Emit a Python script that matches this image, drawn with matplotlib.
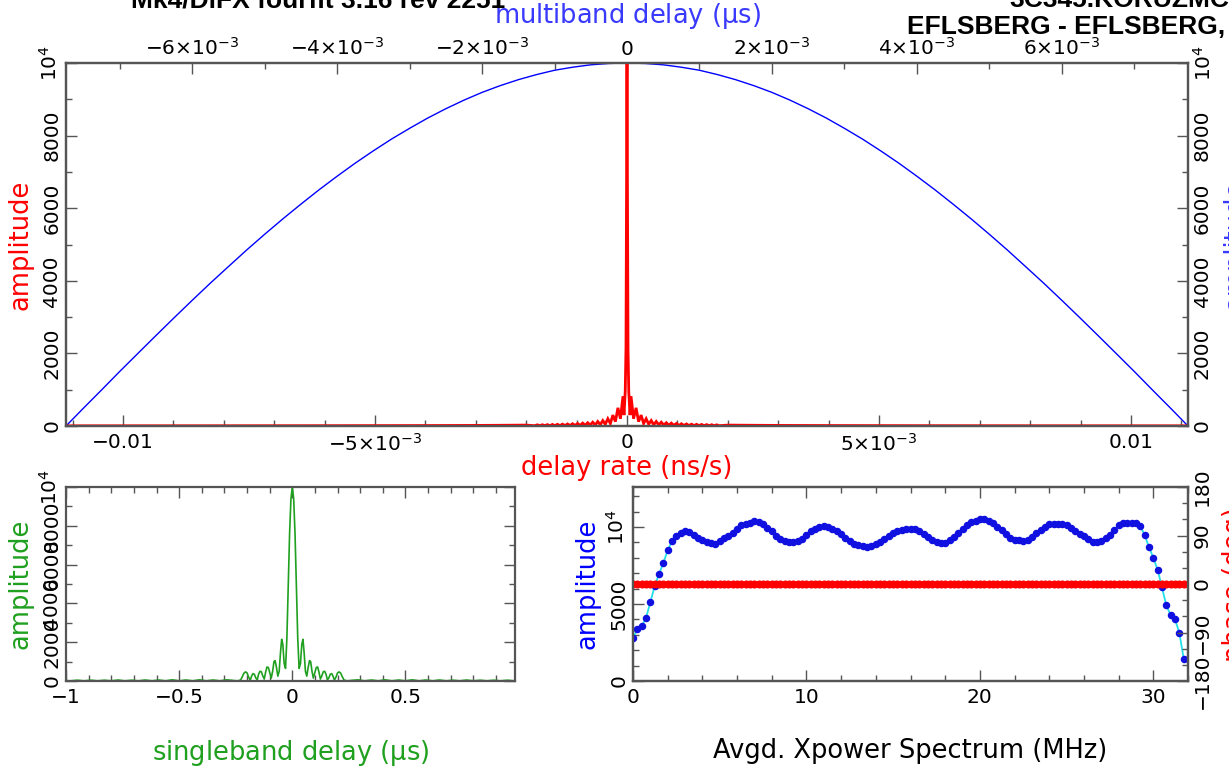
import numpy as np
import matplotlib
matplotlib.use("Agg")
import matplotlib.pyplot as plt
from matplotlib.ticker import MultipleLocator, FixedLocator, FixedFormatter

plt.rcParams['font.family'] = ['DejaVu Sans']
plt.rcParams['mathtext.default'] = 'regular'

# ---------------- data ----------------
# multiband delay function (one side, mirrored), x in microseconds
mbd_offsets = [0.0, 0.00025, 0.0005, 0.00075, 0.001, 0.00125, 0.0015, 0.00175,
               0.002, 0.00225, 0.0025, 0.00275, 0.003, 0.00325, 0.0035, 0.00375,
               0.004, 0.00425, 0.0045, 0.00475, 0.005, 0.00525, 0.0055, 0.00575,
               0.006, 0.00625, 0.0065, 0.00675, 0.007, 0.00725, 0.0075, 0.00774]
mbd_amp = [10000, 9987, 9950, 9884, 9800, 9680, 9540, 9376,
           9190, 8976, 8740, 8483, 8200, 7903, 7580, 7241,
           6880, 6505, 6110, 5703, 5280, 4844, 4390, 3933,
           3460, 2979, 2490, 1996, 1500, 992, 490, 0]

# delay-rate function (one side, mirrored), x in ns/s
rate_offsets = [0.0, 2.0e-5, 3.5e-5, 6.0e-5, 8.0e-5, 1.3e-4, 1.8e-4, 2.3e-4, 2.8e-4,
                3.3e-4, 3.8e-4, 4.3e-4, 4.8e-4, 5.3e-4, 5.8e-4, 6.3e-4, 6.8e-4,
                7.3e-4, 7.8e-4, 8.3e-4, 8.8e-4, 9.3e-4, 9.8e-4, 1.03e-3, 1.08e-3,
                1.13e-3, 1.18e-3, 1.23e-3, 1.28e-3, 1.33e-3, 1.38e-3, 1.43e-3,
                1.48e-3, 1.53e-3, 1.58e-3, 1.63e-3, 1.68e-3, 1.73e-3, 1.78e-3,
                1.83e-3, 2.0e-3, 2.5e-3, 3.0e-3, 4.0e-3, 5.0e-3, 6.0e-3, 8.0e-3,
                1.0e-2, 1.12e-2]
rate_amp = [10000, 2150, 950, 300, 820, 200, 500, 120, 300,
            70, 200, 50, 150, 35, 125, 30, 105,
            25, 90, 20, 80, 18, 70, 15, 62,
            14, 56, 12, 50, 11, 46, 10,
            42, 10, 38, 9, 35, 9, 32,
            8, 25, 20, 16, 12, 10, 8, 6,
            5, 4]

# singleband delay function (one side, mirrored), x in microseconds
sbd_offsets = [0.000, 0.006, 0.012, 0.018, 0.024, 0.030, 0.036, 0.042, 0.047, 0.052,
               0.058, 0.064, 0.070, 0.076, 0.081, 0.087, 0.093, 0.099, 0.106, 0.112,
               0.118, 0.124, 0.130, 0.137, 0.143, 0.149, 0.155, 0.161, 0.168, 0.174,
               0.180, 0.186, 0.193, 0.200, 0.207, 0.214, 0.221, 0.228, 0.236, 0.245,
               0.26, 0.29, 0.32, 0.35, 0.38, 0.41, 0.44, 0.47, 0.50, 0.53, 0.56,
               0.59, 0.62, 0.65, 0.68, 0.71, 0.74, 0.77, 0.80, 0.83, 0.86, 0.89,
               0.92, 0.95, 0.98, 1.0]
sbd_amp = [10000, 9400, 7600, 4800, 2200, 650, 900, 1900, 2150, 1500,
           500, 250, 700, 1050, 1000, 500, 150, 400, 700, 720,
           450, 100, 250, 480, 500, 350, 60, 150, 350, 380,
           250, 40, 200, 420, 470, 400, 220, 60, 20, 10,
           30, 60, 10, 50, 10, 60, 10, 50, 10, 60, 10,
           50, 10, 50, 10, 40, 10, 50, 10, 40, 10, 40,
           10, 40, 10, 20]
sbd_xmax = 0.984

# averaged cross-power spectrum, 0.25 MHz channels
spec_step_mhz = 0.25
spec_amp = [2765, 3370, 3560, 4090, 5130, 6155, 6950, 7670, 8485, 9090,
            9410, 9580, 9715, 9700, 9490, 9300, 9170, 9030, 8940, 8920,
            9110, 9300, 9450, 9640, 9870, 10100, 10210, 10280, 10360, 10320,
            10170, 9940, 9715, 9450, 9220, 9070, 9015, 9000, 9070, 9220,
            9490, 9715, 9870, 9980, 10075, 10020, 9890, 9715, 9525, 9300,
            9090, 8920, 8810, 8750, 8690, 8770, 8900, 9030, 9220, 9410,
            9600, 9715, 9790, 9850, 9900, 9850, 9715, 9560, 9375, 9185,
            9030, 8960, 8980, 9130, 9340, 9620, 9900, 10130, 10300, 10420,
            10510, 10510, 10420, 10250, 10020, 9790, 9525, 9320, 9185, 9130,
            9110, 9185, 9375, 9600, 9790, 10020, 10170, 10210, 10210, 10210,
            10130, 9940, 9715, 9560, 9410, 9220, 9030, 9000, 9110, 9260,
            9490, 9790, 10100, 10250, 10280, 10280, 10250, 10055, 9490, 8690,
            8010, 7215, 6080, 4905, 4280, 3995, 3145, 1460]
spec_phase = [0.0] * len(spec_amp)

# tick labels
amp_ticks = [0, 2000, 4000, 6000, 8000, 10000]
amp_labels = ["0", "2000", "4000", "6000", "8000", "$10^{4}$"]
mbd_ticks = [-6e-3, -4e-3, -2e-3, 0.0, 2e-3, 4e-3, 6e-3]
mbd_labels = [r"$-6{\times}10^{-3}$", r"$-4{\times}10^{-3}$", r"$-2{\times}10^{-3}$", "0",
              r"$2{\times}10^{-3}$", r"$4{\times}10^{-3}$", r"$6{\times}10^{-3}$"]
rate_ticks = [-0.01, -0.005, 0.0, 0.005, 0.01]
rate_labels = ["\u22120.01", r"$-5{\times}10^{-3}$", "0", r"$5{\times}10^{-3}$", "0.01"]
sbd_ticks = [-1.0, -0.5, 0.0, 0.5]
sbd_labels = ["\u22121", "\u22120.5", "0", "0.5"]
spec_ticks = [0, 10, 20, 30]
spec_amp_ticks = [0, 5000, 10000]
spec_amp_labels = ["0", "5000", "$10^{4}$"]
phase_ticks = [-180, -90, 0, 90, 180]
phase_labels = ["\u2212180", "\u221290", "0", "90", "180"]

# ---------------- helpers ----------------
FRAME = '#555555'
RED = '#ff0000'
BLUE = '#0000ff'
LBLUE = '#3a3aff'
GREEN = '#1fa01f'
TICKFS = 14.5
LABFS = 18.5


def mirror(offs, vals):
    offs = np.asarray(offs, float)
    vals = np.asarray(vals, float)
    x = np.concatenate([-offs[:0:-1], offs])
    y = np.concatenate([vals[:0:-1], vals])
    return x, y


def style(ax):
    for s in ax.spines.values():
        s.set_color(FRAME)
        s.set_linewidth(1.6)
    ax.tick_params(which='both', direction='in', colors=FRAME, labelcolor='black',
                   labelsize=TICKFS, width=1.0)
    ax.tick_params(which='major', length=8)
    ax.tick_params(which='minor', length=4)


fig = plt.figure(figsize=(12.29, 7.73), dpi=100)
W, H = 1229.0, 773.0


def box(x0, y0, x1, y1):
    return [x0 / W, 1 - y1 / H, (x1 - x0) / W, (y1 - y0) / H]


# ---------------- top panel ----------------
ax = fig.add_axes(box(66, 63, 1188, 426))
ax2 = ax.twiny()
mx, my = mirror(mbd_offsets, mbd_amp)
ax2.plot(mx, my, color=BLUE, lw=1.0)
rx, ry = mirror(rate_offsets, rate_amp)
ax.plot(rx, ry, color=RED, lw=2.0, solid_joinstyle='miter')
ax.set_zorder(ax2.get_zorder() + 1)
ax.patch.set_visible(False)

ax.set_xlim(-0.01113, 0.01113)
ax2.set_xlim(-0.00774, 0.00774)
ax.set_ylim(0, 10000)
for a in (ax, ax2):
    style(a)
ax.xaxis.set_major_locator(FixedLocator(rate_ticks))
ax.xaxis.set_major_formatter(FixedFormatter(rate_labels))
ax.xaxis.set_minor_locator(MultipleLocator(0.001))
ax2.xaxis.set_major_locator(FixedLocator(mbd_ticks))
ax2.xaxis.set_major_formatter(FixedFormatter(mbd_labels))
ax2.xaxis.set_minor_locator(MultipleLocator(0.001))
ax.yaxis.set_major_locator(FixedLocator(amp_ticks))
ax.yaxis.set_major_formatter(FixedFormatter(amp_labels))
ax.yaxis.set_minor_locator(MultipleLocator(1000))
ax.tick_params(axis='y', which='both', left=True, right=True, labelleft=True,
               labelright=True, labelrotation=90)
ax.tick_params(axis='x', which='both', top=False, bottom=True, pad=5)
ax2.tick_params(axis='x', which='both', top=True, bottom=False, pad=3)
ax.set_xlabel("delay rate (ns/s)", color=RED, fontsize=LABFS, labelpad=0)
ax2.set_xlabel(r"multiband delay ($\mu$s)", color=LBLUE, fontsize=LABFS, labelpad=10)
ax.set_ylabel("amplitude", color=RED, fontsize=LABFS, labelpad=4)

# ---------------- bottom-left: singleband delay ----------------
axs = fig.add_axes(box(66, 487, 515, 681))
sx, sy = mirror(sbd_offsets, sbd_amp)
keep = sx <= sbd_xmax
axs.plot(sx[keep], sy[keep], color=GREEN, lw=1.2)
axs.set_xlim(-1.0, sbd_xmax)
axs.set_ylim(0, 10000)
style(axs)
axs.xaxis.set_major_locator(FixedLocator(sbd_ticks))
axs.xaxis.set_major_formatter(FixedFormatter(sbd_labels))
axs.xaxis.set_minor_locator(MultipleLocator(0.1))
axs.yaxis.set_major_locator(FixedLocator(amp_ticks))
axs.yaxis.set_major_formatter(FixedFormatter(amp_labels))
axs.yaxis.set_minor_locator(MultipleLocator(1000))
axs.tick_params(which='both', top=True, right=True)
axs.tick_params(axis='y', labelrotation=90)
axs.tick_params(axis='x', pad=5)
axs.set_xlabel(r"singleband delay ($\mu$s)", color=GREEN, fontsize=LABFS, labelpad=22)
axs.set_ylabel("amplitude", color=GREEN, fontsize=LABFS, labelpad=4)

# ---------------- bottom-right: spectrum ----------------
axp = fig.add_axes(box(633, 487, 1188, 681))
axq = axp.twinx()
freq = np.arange(len(spec_amp)) * spec_step_mhz
axp.plot(freq, spec_amp, color='#22e0e8', lw=1.3, zorder=2)
axp.plot(freq, spec_amp, ls='none', marker='o', ms=4.4, mfc='#1010e0',
         mec='#1010e0', zorder=3)
axq.plot(freq, spec_phase, ls='none', marker='o', ms=4.8, mfc=RED, mec=RED)
axp.set_xlim(0, 32)
axp.set_ylim(0, 12600)
axq.set_ylim(-180, 180)
for a in (axp, axq):
    style(a)
axp.xaxis.set_major_locator(FixedLocator(spec_ticks))
axp.xaxis.set_minor_locator(MultipleLocator(2))
axp.yaxis.set_major_locator(FixedLocator(spec_amp_ticks))
axp.yaxis.set_major_formatter(FixedFormatter(spec_amp_labels))
axp.yaxis.set_minor_locator(MultipleLocator(1000))
axq.yaxis.set_major_locator(FixedLocator(phase_ticks))
axq.yaxis.set_major_formatter(FixedFormatter(phase_labels))
axq.yaxis.set_minor_locator(MultipleLocator(30))
axp.tick_params(which='both', top=True, right=False)
axp.tick_params(axis='y', labelrotation=90)
axp.tick_params(axis='x', pad=5)
axq.tick_params(axis='y', labelrotation=90)
axp.set_xlabel("Avgd. Xpower Spectrum (MHz)", color='black', fontsize=LABFS, labelpad=22)
axp.set_ylabel("amplitude", color=BLUE, fontsize=LABFS, labelpad=4)

for a in (ax, axs, axp, axq):
    for t in a.yaxis.get_majorticklabels():
        t.set_va('center')

# ---------------- clipped titles / right labels ----------------
fig.text(505 / W, 1 - 8 / H, "Mk4/DiFX fourfit 3.16 rev 2251", ha='right',
         va='baseline', fontsize=19, fontweight='bold', family='Liberation Sans')
fig.text(1229 / W, 1 - 7 / H, "3C345.KORUZMC", ha='right', va='baseline',
         fontsize=19, fontweight='bold', family='Liberation Sans')
fig.text(1225 / W, 1 - 34 / H, "EFLSBERG - EFLSBERG,", ha='right', va='baseline',
         fontsize=19, fontweight='bold', family='Liberation Sans')
fig.text(1222 / W, 1 - 245 / H, "amplitude", color=LBLUE, rotation=90, ha='left',
         va='center', fontsize=LABFS)
fig.text(1222 / W, 1 - 585 / H, "phase (deg)", color=RED, rotation=90, ha='left',
         va='center', fontsize=LABFS)

fig.savefig("out.png", dpi=100)
